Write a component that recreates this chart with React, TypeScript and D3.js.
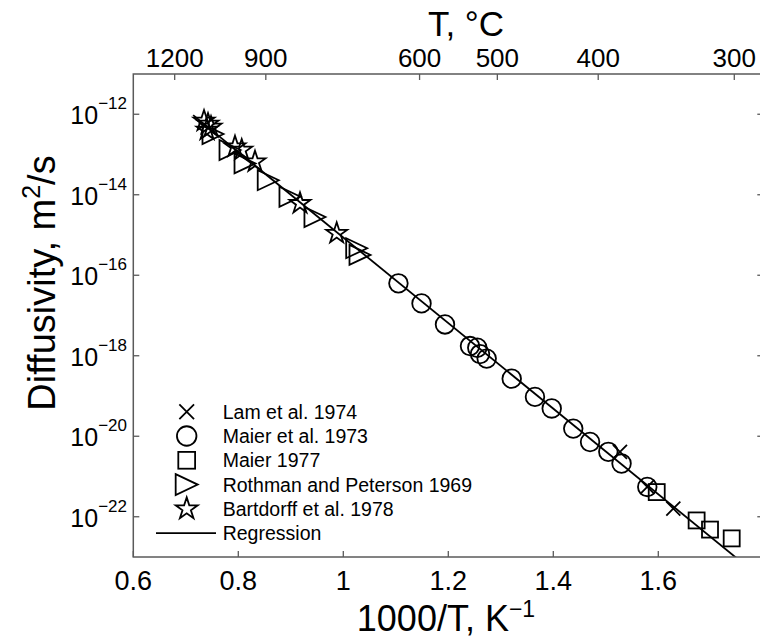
import React from 'react';
import * as d3 from 'd3';

// ---------- data (x = 1000/T in K^-1, y = diffusivity in m^2/s) ----------
const lamX = [1.527, 1.579, 1.6286];
const lamD = [4.1e-21, 5.5e-22, 1.6e-22];

const maier73X = [1.105, 1.149, 1.1937, 1.2413, 1.2552, 1.2604, 1.2731, 1.3208, 1.3651, 1.397, 1.438, 1.47, 1.5048, 1.53, 1.579];
const maier73D = [6.3e-17, 2.0e-17, 6.0e-18, 1.74e-18, 1.58e-18, 1.1e-18, 8.5e-19, 2.7e-19, 9.5e-20, 4.9e-20, 1.55e-20, 7.2e-21, 4.1e-21, 2.1e-21, 5.5e-22];

const maier77X = [1.597, 1.673, 1.6985, 1.7398];
const maier77D = [4.1e-22, 8.1e-23, 4.8e-23, 2.9e-23];

const rothmanX = [0.7518, 0.7842, 0.8128, 0.857, 0.8984, 0.946, 1.0255, 1.0318];
const rothmanD = [3.24e-13, 1.29e-13, 6.0e-14, 2.3e-14, 8.9e-15, 2.8e-15, 4.7e-16, 3.2e-16];

const bartdorffX = [0.7347, 0.7423, 0.748, 0.7404, 0.7937, 0.8065, 0.8318, 0.9175, 0.9874];
const bartdorffD = [6.78e-13, 5.71e-13, 4.81e-13, 4.06e-13, 1.56e-13, 1.29e-13, 6.6e-14, 6.1e-15, 1.1e-15];

const regressionX = [0.714, 1.76];
const regressionD = [9.5e-13, 7.2e-24];

const xTicks = [0.6, 0.8, 1.0, 1.2, 1.4, 1.6];
const xTickLabels = ['0.6', '0.8', '1', '1.2', '1.4', '1.6'];
const yTickExps = [-12, -14, -16, -18, -20, -22];
const topTicksC = [1200, 900, 600, 500, 400, 300];

const legendLabels = ['Lam et al. 1974', 'Maier et al. 1973', 'Maier 1977', 'Rothman and Peterson 1969', 'Bartdorff et al. 1978', 'Regression'];
const legendKinds = ['x', 'circle', 'square', 'tri', 'star', 'line'];

// ---------- layout ----------
const W = 760, H = 641;
const L = 133.3, R = 763.3, T = 74, B = 557;
const FONT = '"Liberation Sans", Arial, Helvetica, sans-serif';
const AX = '#5a5a5a';

const x = d3.scaleLinear().domain([0.6, 1.8]).range([L, R]);
const y = d3.scaleLog().domain([1e-23, 1e-11]).range([B, T]);

function starPath(r: number) {
  const ri = r * 0.382;
  const pts: string[] = [];
  for (let i = 0; i < 10; i++) {
    const a = -Math.PI / 2 + (i * Math.PI) / 5;
    const rr = i % 2 === 0 ? r : ri;
    pts.push(`${(rr * Math.cos(a)).toFixed(2)},${(rr * Math.sin(a)).toFixed(2)}`);
  }
  return 'M' + pts.join('L') + 'Z';
}

function Marker({ kind, cx, cy, s = 1 }: { kind: string; cx: number; cy: number; s?: number }) {
  const common = { fill: 'none', stroke: '#000', strokeWidth: 1.8 };
  const t = `translate(${cx},${cy})`;
  if (kind === 'circle') return <circle cx={cx} cy={cy} r={9.3 * s} {...common} />;
  if (kind === 'square') return <rect x={cx - 8 * s} y={cy - 8 * s} width={16 * s} height={16 * s} {...common} />;
  if (kind === 'x') {
    const a = 7 * s;
    return <path transform={t} d={`M${-a},${-a}L${a},${a}M${-a},${a}L${a},${-a}`} {...common} />;
  }
  if (kind === 'tri') {
    const w = 10.5 * s, h = 10 * s;
    return <path transform={t} d={`M${-w},${-h}L${w},0L${-w},${h}Z`} {...common} />;
  }
  if (kind === 'star') return <path transform={t} d={starPath(11 * s)} {...common} />;
  return null;
}

export default function App() {
  const line = d3.line<number>().x((_, i) => x(regressionX[i])).y((_, i) => y(regressionD[i]));
  const series: [string, number[], number[]][] = [
    ['circle', maier73X, maier73D],
    ['square', maier77X, maier77D],
    ['tri', rothmanX, rothmanD],
    ['star', bartdorffX, bartdorffD],
    ['x', lamX, lamD],
  ];
  const legX = 186.7, legTextX = 222.7, legY0 = 411.7, legDy = 24.3;

  return (
    <div style={{ position: 'absolute', left: 0, top: 0 }}>
      <svg width={W} height={H} style={{ display: 'block', background: '#fff' }} fontFamily={FONT}>
        <defs>
          <clipPath id="plot">
            <rect x={L} y={T} width={R - L} height={B - T} />
          </clipPath>
        </defs>
        <rect x={0} y={0} width={W} height={H} fill="#fff" />

        {/* regression line */}
        <path d={line(regressionX) || ''} fill="none" stroke="#000" strokeWidth={1.8} clipPath="url(#plot)" />

        {/* data markers */}
        {series.map(([kind, xs, ds]) =>
          xs.map((v, i) => <Marker key={kind + i} kind={kind} cx={x(v)} cy={y(ds[i])} />)
        )}

        {/* axes box */}
        <rect x={L} y={T} width={R - L} height={B - T} fill="none" stroke={AX} strokeWidth={1.5} />

        {/* bottom ticks */}
        {xTicks.map((v, i) => (
          <g key={'xt' + i}>
            <line x1={x(v)} x2={x(v)} y1={B} y2={B - 6} stroke={AX} strokeWidth={1.3} />
            <text x={x(v)} y={590} textAnchor="middle" fontSize={27} fill="#000">{xTickLabels[i]}</text>
          </g>
        ))}

        {/* top ticks (deg C) */}
        {topTicksC.map((c, i) => {
          const xv = x(1000 / (c + 273.15));
          return (
            <g key={'tt' + i}>
              <line x1={xv} x2={xv} y1={T} y2={T + 6} stroke={AX} strokeWidth={1.3} />
              <text x={xv} y={67} textAnchor="middle" fontSize={26} fill="#000">{c}</text>
            </g>
          );
        })}

        {/* left/right ticks */}
        {yTickExps.map((e) => {
          const yv = y(Math.pow(10, e));
          return (
            <g key={'yt' + e}>
              <line x1={L} x2={L + 6} y1={yv} y2={yv} stroke={AX} strokeWidth={1.3} />
              <line x1={R} x2={R - 6} y1={yv} y2={yv} stroke={AX} strokeWidth={1.3} />
              <text x={127} y={yv + 10} textAnchor="end" fontSize={25} fill="#000">
                10
                <tspan dy={-15} fontSize={17}>{'\u2212' + Math.abs(e)}</tspan>
              </text>
            </g>
          );
        })}

        {/* axis titles */}
        <text x={446} y={631} textAnchor="middle" fontSize={36} fill="#000">
          1000/T, K<tspan dy={-14} fontSize={23}>{'\u22121'}</tspan>
        </text>
        <text x={466} y={36} textAnchor="middle" fontSize={35} fill="#000">T, °C</text>
        <text transform="translate(55,283) rotate(-90)" textAnchor="middle" fontSize={38} fill="#000">
          Diffusivity, m<tspan dy={-15} fontSize={25}>2</tspan>
          <tspan dy={15}>/s</tspan>
        </text>

        {/* legend */}
        {legendLabels.map((lab, i) => {
          const ly = legY0 + i * legDy;
          const kind = legendKinds[i];
          return (
            <g key={'lg' + i}>
              {kind === 'line' ? (
                <line x1={156} x2={216} y1={ly} y2={ly} stroke="#000" strokeWidth={1.8} />
              ) : (
                <Marker kind={kind} cx={legX} cy={ly} s={1.05} />
              )}
              <text x={legTextX} y={ly + 7} fontSize={19.5} fill="#000">{lab}</text>
            </g>
          );
        })}
      </svg>
    </div>
  );
}
